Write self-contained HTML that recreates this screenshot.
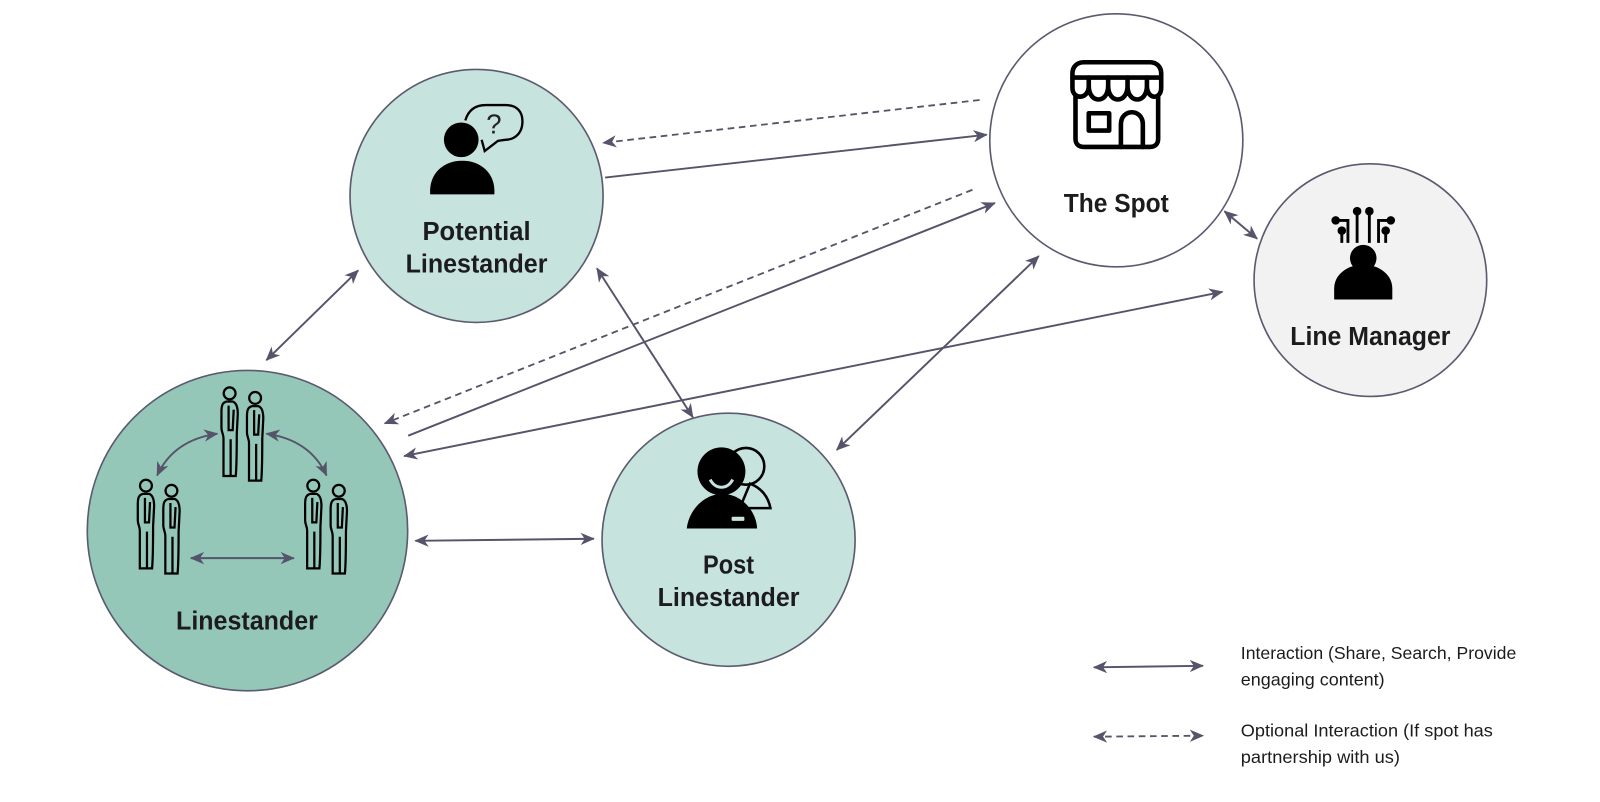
<!DOCTYPE html>
<html><head><meta charset="utf-8"><style>
html,body{margin:0;padding:0;background:#fff;width:1600px;height:802px;overflow:hidden}
svg{display:block}
text{font-family:"Liberation Sans",sans-serif;fill:#1c1c1e}
.t{font-weight:700;font-size:25px;text-anchor:middle}
.l{font-size:17.5px}
.a{stroke:#55546a;stroke-width:1.9;fill:none}
.d{stroke:#55546a;stroke-width:1.8;fill:none;stroke-dasharray:6.500 4.500}
</style></head><body>
<svg width="1600" height="802" viewBox="0 0 1568 786" xmlns="http://www.w3.org/2000/svg">
<defs>
<marker id="h" viewBox="0 0 14 12" refX="13" refY="6" markerWidth="14" markerHeight="12" markerUnits="userSpaceOnUse" orient="auto-start-reverse"><path d="M0 0L14 6L0 12L4 6Z" fill="#55546a"/></marker>
<g id="p" fill="none" stroke="#000" stroke-width="2.200">
<circle cx="0" cy="0" r="5.800"/>
<path d="M-3 8C-7 9-8 12-8 18L-8 34C-8 38-6 40-6 44L-6 81L6 81C7 70 7 50 7 40L8 20C8 12 6 9 3 8Z"/>
<path d="M-1 12L-1 36L3 36L4 16M1 45L1 81"/>
</g>
</defs>

<circle cx="467" cy="192" r="124" fill="#c7e3dd" stroke="#5b5b70" stroke-width="1.600"/>
<circle cx="1094" cy="137.500" r="124" fill="#fff" stroke="#5b5b70" stroke-width="1.600"/>
<circle cx="1343" cy="274.500" r="114" fill="#f2f2f2" stroke="#5b5b70" stroke-width="1.600"/>
<circle cx="242.500" cy="520" r="157" fill="#95c7b9" stroke="#5b5b70" stroke-width="1.600"/>
<circle cx="714" cy="529" r="124" fill="#c7e3dd" stroke="#5b5b70" stroke-width="1.600"/>

<!-- connectors -->
<path class="d" d="M960 98L591 140" marker-end="url(#h)"/>
<path class="a" d="M593 174L967 132" marker-end="url(#h)"/>
<path class="d" d="M953 186L377 415" marker-end="url(#h)"/>
<path class="a" d="M400 427L975 199" marker-end="url(#h)"/>
<path class="a" d="M396 447L1198 286" marker-start="url(#h)" marker-end="url(#h)"/>
<path class="a" d="M351 265L261 353" marker-start="url(#h)" marker-end="url(#h)"/>
<path class="a" d="M585 263L679 409" marker-start="url(#h)" marker-end="url(#h)"/>
<path class="a" d="M1018 251L820 441" marker-start="url(#h)" marker-end="url(#h)"/>
<path class="a" d="M1200 207L1232 234" marker-start="url(#h)" marker-end="url(#h)"/>
<path class="a" d="M407 530L582 528" marker-start="url(#h)" marker-end="url(#h)"/>

<!-- Linestander inner -->
<use href="#p" x="225" y="385.500"/><use href="#p" x="250" y="390"/>
<use href="#p" x="143" y="476"/><use href="#p" x="168" y="481"/>
<use href="#p" x="307" y="476"/><use href="#p" x="332" y="481"/>
<path class="a" d="M187 547L288 547" marker-start="url(#h)" marker-end="url(#h)"/>
<path class="a" d="M213 425C185 429 165 442 154 466" marker-start="url(#h)" marker-end="url(#h)"/>
<path class="a" d="M261 425C289 429 309 442 320 466" marker-start="url(#h)" marker-end="url(#h)"/>

<!-- Potential icon -->
<circle cx="452" cy="137" r="17" fill="#000"/>
<path d="M422 190C421 170 435 158 453 158C471 158 485 170 484 190Z" fill="#000" stroke="#000" stroke-linejoin="round" stroke-width="1"/>
<path d="M456 118C459 108 466 103 476 103L496 103C507 103 512 110 512 119C512 130 505 137 495 137L488 138L475 148L472 137" fill="none" stroke="#000" stroke-width="2.300"/>
<text x="484" y="131" style="font-size:27px;fill:#222;text-anchor:middle">?</text>

<!-- Spot icon -->
<g fill="none" stroke="#000" stroke-width="4.500" stroke-linejoin="round" stroke-linecap="round">
<path d="M1051 76L1051 72C1051 65 1056 61 1062 61L1127 61C1133 61 1138 65 1138 72L1138 76Z"/>
<path d="M1051 76L1051 86C1051 98 1067 98 1067 84L1067 76M1067 84C1067 102 1086 102 1086 84L1086 76M1086 84C1086 102 1105 102 1105 84L1105 76M1105 84C1105 102 1124 102 1124 84L1124 76M1124 84C1124 98 1138 98 1138 86L1138 76"/>
<path d="M1054 95L1054 136C1054 141 1057 144 1062 144L1127 144C1132 144 1135 141 1135 136L1135 95"/>
<rect x="1067" y="111" width="20" height="17"/>
<path d="M1098.500 144L1098.500 122C1098.500 106 1120 106 1120 122L1120 144"/>
</g>

<!-- Line manager icon -->
<g fill="none" stroke="#000" stroke-width="2.800">
<path d="M1309 216L1321 216L1321 238M1363 216L1351 216L1351 238"/>
<path d="M1330 207L1330 238M1342 207L1342 238M1315 226L1315 238M1358 226L1358 238"/>
</g>
<circle cx="1309" cy="216" r="4.200" fill="#000"/><circle cx="1315" cy="226" r="4.200" fill="#000"/>
<circle cx="1330" cy="207" r="4.200" fill="#000"/><circle cx="1342" cy="207" r="4.200" fill="#000"/>
<circle cx="1363" cy="216" r="4.200" fill="#000"/><circle cx="1358" cy="226" r="4.200" fill="#000"/>
<circle cx="1336" cy="253" r="13" fill="#000"/>
<path d="M1308 293L1308 283C1308 270 1320 260 1336 260C1352 260 1364 270 1364 283L1364 293Z" fill="#000" stroke="#000" stroke-linejoin="round" stroke-width="1"/>

<!-- Post icon -->
<circle cx="731" cy="457" r="18" fill="none" stroke="#000" stroke-width="2.500"/>
<path d="M735 474C746 478 753 487 755 498L725 498Z" fill="none" stroke="#000" stroke-width="2.500"/>
<circle cx="707" cy="462" r="23.500" fill="#000"/>
<path d="M673 518C675 500 690 484 708 484C726 484 741 500 742 518Z" fill="#000"/>
<path d="M696 470C701 480 713 480 718 470" fill="none" stroke="#c7e3dd" stroke-width="3"/>
<rect x="717" y="506.500" width="12.500" height="4" rx="1" fill="#c7e3dd"/>

<!-- labels -->
<text class="t" x="467" y="235" textLength="106" lengthAdjust="spacingAndGlyphs">Potential</text>
<text class="t" x="467" y="267" textLength="139" lengthAdjust="spacingAndGlyphs">Linestander</text>
<text class="t" x="1094" y="208" textLength="103" lengthAdjust="spacingAndGlyphs">The Spot</text>
<text class="t" x="1343" y="338" textLength="157" lengthAdjust="spacingAndGlyphs">Line Manager</text>
<text class="t" x="242" y="617" textLength="139" lengthAdjust="spacingAndGlyphs">Linestander</text>
<text class="t" x="714" y="562" textLength="50" lengthAdjust="spacingAndGlyphs">Post</text>
<text class="t" x="714" y="594" textLength="139" lengthAdjust="spacingAndGlyphs">Linestander</text>

<!-- legend -->
<path class="a" d="M1072 654L1179 652.500" marker-start="url(#h)" marker-end="url(#h)"/>
<path class="d" d="M1072 722L1179 721" marker-start="url(#h)" marker-end="url(#h)"/>
<text class="l" x="1216" y="646" textLength="270" lengthAdjust="spacingAndGlyphs">Interaction (Share, Search, Provide</text>
<text class="l" x="1216" y="672" textLength="141" lengthAdjust="spacingAndGlyphs">engaging content)</text>
<text class="l" x="1216" y="722" textLength="247" lengthAdjust="spacingAndGlyphs">Optional Interaction (If spot has</text>
<text class="l" x="1216" y="748" textLength="156" lengthAdjust="spacingAndGlyphs">partnership with us)</text>
</svg>
</body></html>
